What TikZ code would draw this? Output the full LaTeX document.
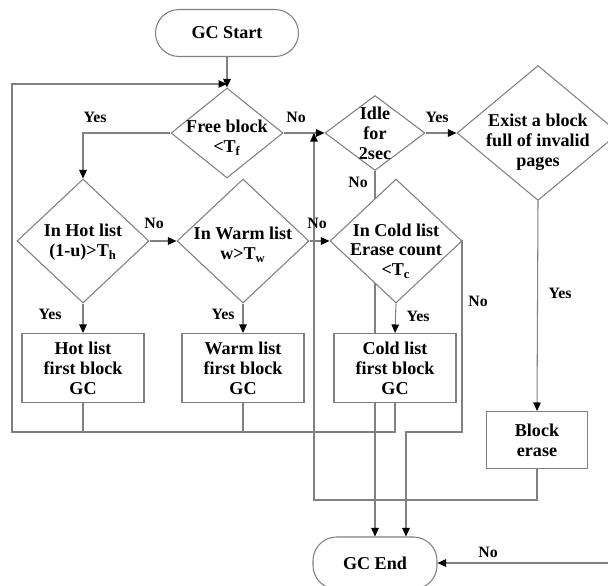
\documentclass[tikz,border=0pt]{standalone}
\usepackage{fontspec}
\setmainfont{Liberation Serif}
\usetikzlibrary{shapes.geometric,arrows.meta,backgrounds}
\definecolor{linegray}{RGB}{128,128,128}
\tikzset{
  decision/.style={diamond, draw=linegray, fill=white, line width=0.6pt, inner sep=0pt},
  dtext/.style={align=center, inner sep=0pt, font=\fontsize{10.3}{11.3}\selectfont\bfseries},
  procbox/.style={rectangle, draw=linegray, fill=white, line width=0.6pt, inner sep=0pt, align=center,
    minimum width=2.44cm, minimum height=1.38cm, font=\fontsize{10.3}{11.3}\selectfont\bfseries},
  terminal/.style={rectangle, rounded corners=0.47cm, draw=linegray, fill=white, line width=0.6pt,
    inner sep=0pt, font=\fontsize{10.3}{11.3}\selectfont\bfseries},
  line/.style={draw=linegray, line width=0.6pt},
  flow/.style={line, -{Triangle[length=0.17cm, width=0.15cm, color=black]}},
  yn/.style={inner sep=0pt, font=\fontsize{9}{10}\selectfont\bfseries}
}
\begin{document}
\begin{tikzpicture}[x=0.02cm, y=-0.02cm]
	\clip (0,0) rectangle (608,585);
	% terminals
	\node[terminal, minimum width=2.86cm, minimum height=0.94cm] (start) at (227,33) {GC Start};
	\node[terminal, minimum width=2.48cm, minimum height=1.04cm] (end) at (375,563) {GC End};
	% decisions
	\node[decision, minimum width=2.24cm, minimum height=1.8cm] (free) at (227,133) {};
	\node[dtext] (freet) at (227,138) {Free block\\<T\textsubscript{f}};
	\node[decision, minimum width=2.0cm, minimum height=1.5cm] (idle) at (375,133) {};
	\node[dtext] (idlet) at (375,133) {Idle\\for\\2sec};
	\node[decision, minimum width=3.24cm, minimum height=2.7cm] (exist) at (538,133) {};
	\node[dtext] (existt) at (538,142) {Exist a block\\full of invalid\\pages};
	\node[decision, minimum width=2.64cm, minimum height=2.48cm] (hot) at (83,241) {};
	\node[dtext] (hott) at (83,242) {In Hot list\\(1-u)>T\textsubscript{h}};
	\node[decision, minimum width=2.64cm, minimum height=2.48cm] (warm) at (243,241) {};
	\node[dtext] (warmt) at (243,245) {In Warm list\\w>T\textsubscript{w}};
	\node[decision, minimum width=2.64cm, minimum height=2.48cm] (cold) at (396,241) {};
	\node[dtext] (coldt) at (396,251) {In Cold list\\Erase count\\<T\textsubscript{c}};
	% processes
	\node[procbox] (hotgc) at (83,368) {Hot list\\first block\\GC};
	\node[procbox] (warmgc) at (243,368) {Warm list\\first block\\GC};
	\node[procbox] (coldgc) at (395,368) {Cold list\\first block\\GC};
	\node[procbox, minimum width=2.02cm, minimum height=1.14cm] (erase) at (537,440) {Block\\erase};
	% helper points
	\coordinate (jtop) at (227,84);
	\coordinate (lpT) at (12,84);
	\coordinate (lpL) at (12,432);
	\coordinate (jidle) at (314,133);
	\coordinate (erbot) at (314,500);
	\coordinate (cldR) at (462,432);
	% connectors, kept behind the shapes
	\begin{pgfonlayer}{background}
	\fill[white] (0,0) rectangle (608,585);
	\draw[flow] (start) -- (free.north);
	\draw[flow] (coldgc.south) |- (lpL) -- (lpT) -- (jtop);
	\draw[line] (hotgc.south) -- (hotgc.south |- lpL);
	\draw[line] (warmgc.south) -- (warmgc.south |- lpL);
	\draw[flow] (free.west) -| (hot.north);
	\draw[flow] (free.east) -- (idle.west);
	\draw[flow] (idle.east) -- (exist.west);
	\draw[flow] (idle.south) -- (end.north);
	\draw[flow] (hot.east) -- (warm.west);
	\draw[flow] (warm.east) -- (cold.west);
	\draw[flow] (hot.south) -- (hotgc.north);
	\draw[flow] (warm.south) -- (warmgc.north);
	\draw[flow] (cold.south) -- (coldgc.north);
	\draw[flow] (cold.east) -- (cold.east -| cldR) -- (cldR) -| ([xshift=0.62cm]end.north);
	\draw[flow] (exist.south) -- (erase.north);
	\draw[flow] (erase.south) |- (erbot) -- (jidle);
	\draw[flow] (exist.east) -- ++(30,0) |- (end.east);
	\end{pgfonlayer}
	% branch labels
	\node[yn] (yfree) at (95,117) {Yes};
	\node[yn] (nfree) at (296,117) {No};
	\node[yn] (yidle) at (437,117) {Yes};
	\node[yn] (nidle) at (358,182) {No};
	\node[yn] (nhot) at (154,223) {No};
	\node[yn] (nwarm) at (317,223) {No};
	\node[yn] (yhot) at (50,314) {Yes};
	\node[yn] (ywarm) at (223,314) {Yes};
	\node[yn] (ycold) at (418,316) {Yes};
	\node[yn] (ncold) at (478,301) {No};
	\node[yn] (yexist) at (560,293) {Yes};
	\node[yn] (nexist) at (488,552) {No};
\end{tikzpicture}
\end{document}
